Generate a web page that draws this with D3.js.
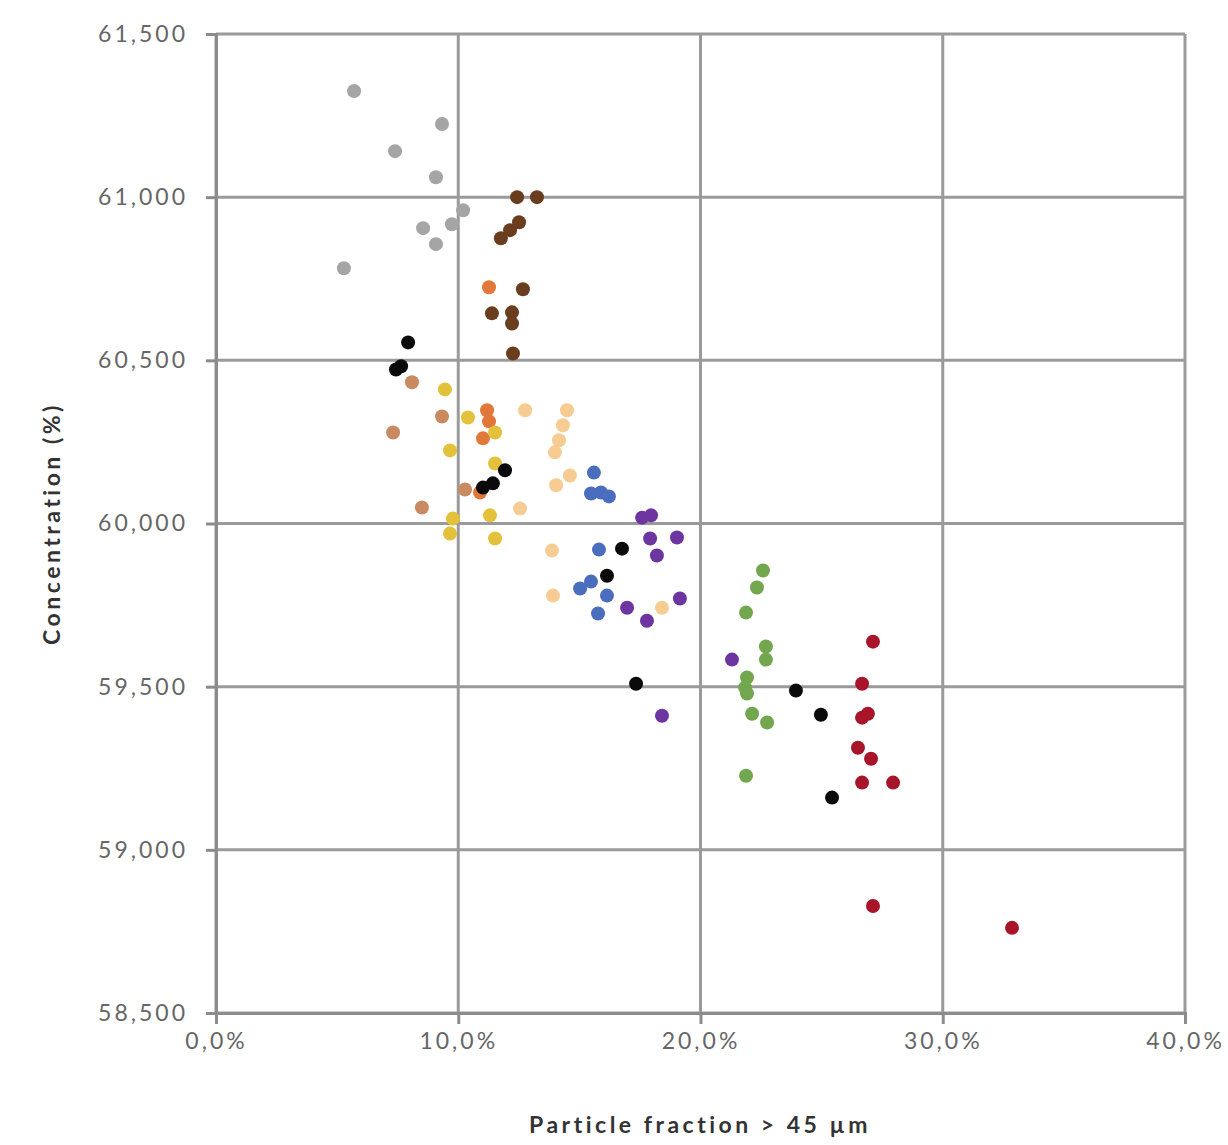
<!DOCTYPE html>
<html lang="en">
<head>
<meta charset="utf-8">
<title>Concentration vs particle fraction</title>
<script src="https://d3js.org/d3.v7.min.js"></script>
<style>
    body { margin: 0; background: #fff; }
    .axis text { font-family: Lato, "Liberation Sans", sans-serif; font-size: 23px; fill: #666; letter-spacing: 3px; }
    .axis path, .axis line { stroke: #8c8c8c; stroke-width: 3px; }
    .grid line { stroke: #9a9a9a; stroke-width: 3px; }
    .title { font-family: Lato, "Liberation Sans", sans-serif; font-size: 23px; font-weight: bold; fill: #333; letter-spacing: 3.5px; }
</style>
</head>
<body>
<script>
// tick values
var xTicks = [0, 10, 20, 30, 40];
var yTicks = [58.5, 59.0, 59.5, 60.0, 60.5, 61.0, 61.5];

// series: x = particle fraction (%), y = concentration (%)
var greyX = [5.70, 7.39, 9.33, 9.08, 5.28, 8.55, 9.08, 9.74, 10.20];
var greyY = [61.325, 61.141, 61.224, 61.061, 60.782, 60.905, 60.856, 60.917, 60.960];

var brownX = [12.43, 13.25, 11.76, 12.14, 12.51, 12.67, 11.39, 12.22, 12.22, 12.26];
var brownY = [61.0, 61.0, 60.874, 60.899, 60.923, 60.718, 60.644, 60.647, 60.613, 60.521];

var orangeX = [11.27, 11.19, 11.27, 11.02, 10.90];
var orangeY = [60.724, 60.347, 60.313, 60.261, 60.095];

var tanX = [8.09, 9.33, 7.31, 8.50, 10.28];
var tanY = [60.433, 60.328, 60.279, 60.049, 60.104];

var yellowX = [9.45, 10.40, 11.52, 11.52, 9.66, 9.78, 9.66, 11.31, 11.52];
var yellowY = [60.411, 60.325, 60.279, 60.184, 60.224, 60.015, 59.969, 60.025, 59.954];

var peachX = [12.76, 14.49, 14.32, 14.16, 13.99, 14.61, 14.04, 12.55, 13.87, 13.91, 18.41];
var peachY = [60.347, 60.347, 60.301, 60.255, 60.218, 60.147, 60.117, 60.046, 59.917, 59.779, 59.742];

var blueX = [15.60, 15.48, 15.89, 16.22, 15.81, 15.03, 15.48, 16.14, 15.77];
var blueY = [60.156, 60.092, 60.095, 60.083, 59.920, 59.801, 59.822, 59.779, 59.724];

var purpleX = [17.59, 17.96, 17.92, 19.03, 18.20, 19.15, 16.97, 17.79, 18.41, 21.30];
var purpleY = [60.018, 60.025, 59.954, 59.957, 59.902, 59.770, 59.742, 59.702, 59.411, 59.583];

var greenX = [22.58, 22.33, 21.88, 22.70, 22.70, 21.92, 21.84, 21.92, 22.13, 22.75, 21.88];
var greenY = [59.856, 59.804, 59.727, 59.623, 59.583, 59.528, 59.497, 59.479, 59.417, 59.390, 59.227];

var redX = [27.12, 26.67, 26.67, 26.91, 26.50, 27.04, 26.67, 27.95, 27.12, 32.86];
var redY = [59.638, 59.509, 59.405, 59.417, 59.313, 59.279, 59.206, 59.206, 58.828, 58.761];

var blackX = [7.93, 7.64, 7.43, 11.93, 11.43, 11.02, 16.76, 16.14, 17.34, 23.94, 24.97, 25.43];
var blackY = [60.555, 60.482, 60.472, 60.163, 60.123, 60.110, 59.923, 59.840, 59.509, 59.488, 59.414, 59.160];

var series = [
    { x: greyX, y: greyY, color: "#a5a5a5" },
    { x: brownX, y: brownY, color: "#6a3d1f" },
    { x: orangeX, y: orangeY, color: "#e2773a" },
    { x: tanX, y: tanY, color: "#c98a62" },
    { x: yellowX, y: yellowY, color: "#e3c13a" },
    { x: peachX, y: peachY, color: "#f6cc92" },
    { x: blueX, y: blueY, color: "#4a6dbd" },
    { x: purpleX, y: purpleY, color: "#6c35a0" },
    { x: greenX, y: greenY, color: "#72a74f" },
    { x: redX, y: redY, color: "#a8152a" },
    { x: blackX, y: blackY, color: "#0a0a0a" }
];

var margin = { top: 34, right: 43, bottom: 132, left: 216 };
var w = 1228 - margin.left - margin.right;
var h = 1145 - margin.top - margin.bottom;

var svg = d3.select("body").append("svg")
    .attr("width", 1228)
    .attr("height", 1145)
    .append("g")
    .attr("transform", "translate(" + margin.left + "," + margin.top + ")");

var xScale = d3.scaleLinear().domain([0, 40]).range([0, w]);
var yScale = d3.scaleLinear().domain([58.5, 61.5]).range([h, 0]);

var fmtY = function (d) { return d3.format(".3f")(d).replace(".", ","); };
var fmtX = function (d) { return d3.format(".1f")(d).replace(".", ",") + "%"; };

// grid
svg.append("g").attr("class", "grid")
    .selectAll("line.h").data(yTicks).enter().append("line")
    .attr("x1", 0).attr("x2", w)
    .attr("y1", function (d) { return yScale(d); })
    .attr("y2", function (d) { return yScale(d); });
svg.append("g").attr("class", "grid")
    .selectAll("line.v").data(xTicks).enter().append("line")
    .attr("y1", 0).attr("y2", h)
    .attr("x1", function (d) { return xScale(d); })
    .attr("x2", function (d) { return xScale(d); });

// axes
svg.append("g").attr("class", "axis")
    .attr("transform", "translate(0," + h + ")")
    .call(d3.axisBottom(xScale).tickValues(xTicks).tickFormat(fmtX).tickSize(11).tickPadding(9));
svg.append("g").attr("class", "axis")
    .call(d3.axisLeft(yScale).tickValues(yTicks).tickFormat(fmtY).tickSize(10).tickPadding(18));

// points
series.forEach(function (s) {
    svg.append("g").selectAll("circle")
        .data(s.x.map(function (v, i) { return [v, s.y[i]]; }))
        .enter().append("circle")
        .attr("cx", function (d) { return xScale(d[0]); })
        .attr("cy", function (d) { return yScale(d[1]); })
        .attr("r", 7)
        .attr("fill", s.color);
});

// axis titles
svg.append("text").attr("class", "title")
    .attr("x", 484).attr("y", h + 120)
    .style("text-anchor", "middle")
    .text("Particle fraction > 45 µm");
svg.append("text").attr("class", "title")
    .attr("transform", "rotate(-90)")
    .attr("x", -(yScale(60.0)))
    .attr("y", -156)
    .style("text-anchor", "middle")
    .text("Concentration (%)");
</script>
</body>
</html>
